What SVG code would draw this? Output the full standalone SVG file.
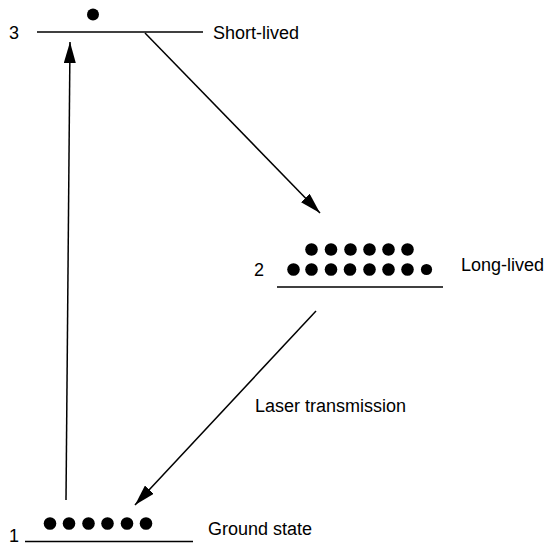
<svg xmlns="http://www.w3.org/2000/svg" width="551" height="547" viewBox="0 0 551 547">
  <defs>
    <style>
      .level { stroke: #000; stroke-width: 1.6; fill: none; }
      .conn { stroke: #000; stroke-width: 1.5; fill: none; marker-end: url(#head); }
      .dot { fill: #000; }
      text { font-family: "Liberation Sans", Arial, sans-serif; font-size: 18px; fill: #000; }
    </style>
    <marker id="head" markerUnits="userSpaceOnUse" markerWidth="22" markerHeight="12" refX="21" refY="6" orient="auto">
      <path d="M0,0 L21,6 L0,12 z" fill="#000"/>
    </marker>
  </defs>
  <rect width="551" height="547" fill="#fff"/>

  <!-- energy level 3 -->
  <g id="level3">
    <line class="level" x1="37" y1="32" x2="203" y2="32"/>
    <circle class="dot" cx="93" cy="14.5" r="6"/>
    <text x="9" y="38.5">3</text>
    <text x="213" y="38.5">Short-lived</text>
  </g>

  <!-- energy level 2 -->
  <g id="level2">
    <line class="level" x1="277" y1="287" x2="443" y2="287"/>
    <g>
      <circle class="dot" cx="311.5" cy="249.5" r="6.3"/>
      <circle class="dot" cx="331" cy="249.5" r="6.3"/>
      <circle class="dot" cx="350.5" cy="249.5" r="6.3"/>
      <circle class="dot" cx="369.5" cy="249.5" r="6.3"/>
      <circle class="dot" cx="388.5" cy="249.5" r="6.3"/>
      <circle class="dot" cx="407.5" cy="249.5" r="6.3"/>
      <circle class="dot" cx="293.5" cy="269.5" r="6.3"/>
      <circle class="dot" cx="311.5" cy="269.5" r="6.3"/>
      <circle class="dot" cx="331" cy="269.5" r="6.3"/>
      <circle class="dot" cx="350" cy="269.5" r="6.3"/>
      <circle class="dot" cx="369.5" cy="269.5" r="6.3"/>
      <circle class="dot" cx="388.5" cy="269.5" r="6.3"/>
      <circle class="dot" cx="407.5" cy="269.5" r="6.3"/>
      <circle class="dot" cx="426.5" cy="269.5" r="5.6"/>
    </g>
    <text x="254" y="276">2</text>
    <text x="461" y="270.5">Long-lived</text>
  </g>

  <!-- energy level 1 (ground) -->
  <g id="level1">
    <line class="level" x1="25" y1="541.5" x2="193" y2="541.5"/>
    <circle class="dot" cx="50" cy="523.5" r="6.3"/>
    <circle class="dot" cx="69" cy="523.5" r="6.3"/>
    <circle class="dot" cx="88.5" cy="523.5" r="6.3"/>
    <circle class="dot" cx="107.5" cy="523.5" r="6.3"/>
    <circle class="dot" cx="127" cy="523.5" r="6.3"/>
    <circle class="dot" cx="146" cy="523.5" r="6.3"/>
    <text x="9" y="542">1</text>
    <text x="208" y="535">Ground state</text>
  </g>

  <!-- transitions -->
  <g id="connectors">
    <line class="conn" x1="66" y1="500" x2="70" y2="42"/>
    <line class="conn" x1="145" y1="33" x2="320" y2="213"/>
    <line class="conn" x1="316" y1="311" x2="135" y2="505"/>
  </g>
  <text x="255" y="412">Laser transmission</text>
</svg>
